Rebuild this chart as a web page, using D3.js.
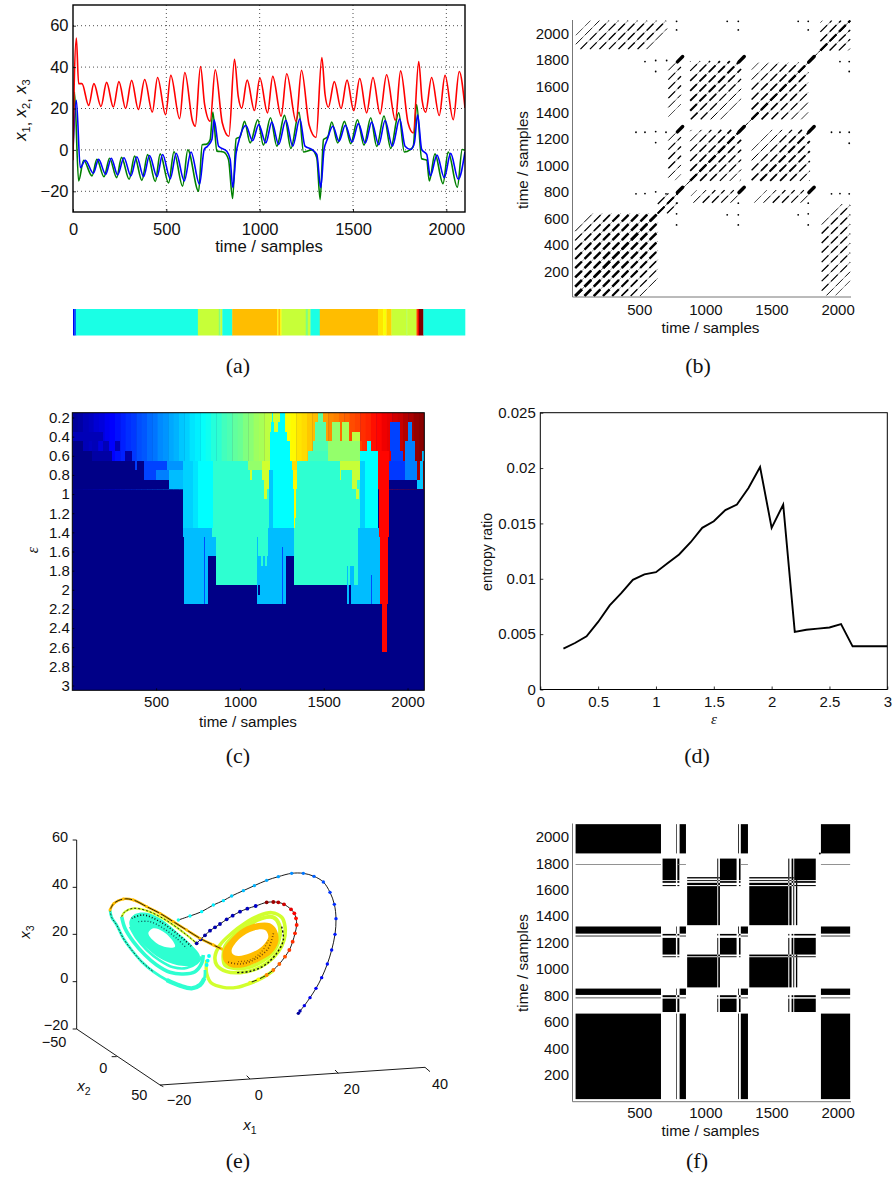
<!DOCTYPE html>
<html>
<head>
<meta charset="utf-8">
<script src="https://cdn.jsdelivr.net/npm/d3@7"></script>
<style>
  html, body { margin: 0; padding: 0; background: #fff; }
  svg { display: block; }
  text { font-family: "Liberation Sans", sans-serif; fill: #111; }
  .serif { font-family: "Liberation Serif", serif; }
</style>
</head>
<body>
<svg id="chart" width="893" height="1178"></svg>
<script>
// (a) time series, read at extrema
const x3T = [0,6,18,30,48,84,112,150,180,216,246,282,314,350,384,425,453,496,524,571,599,640,655,683,705,735,762,800,835,865,885,904,933,972,1001,1042,1070,1115,1145,1195,1224,1265,1302,1333,1350,1368,1400,1436,1468,1504,1536,1573,1607,1645,1680,1727,1755,1795,1823,1852,1870,1889,1921,1962,1993,2037,2069,2100];
const x3V = [-5,30,54,32,32,21.5,32,21,32.6,20.7,33,20,33.6,19.5,34,18.3,35,17,36,15.1,37.4,14,11.4,40.3,22,13.8,38.7,13,6.6,43.8,26,20.2,33.7,19,34.7,17.9,35.5,16.3,36.8,13.8,38.5,12,6,44.6,27,20.6,33,20,33.7,19,34.5,17.9,35,17.4,36.3,14.3,38.2,13,8.2,42.7,24,18.2,35,16.6,36,14.6,37.9,20.3];
const x2T = [0,8,30,57,102,128,166,196,234,260,301,330,369,400,441,467,512,541,587,615,673,692,717,735,749,771,806,833,855,874,895,919,949,990,1020,1058,1092,1133,1167,1211,1235,1279,1306,1324,1342,1365,1386,1418,1454,1488,1524,1559,1595,1627,1666,1702,1745,1775,1805,1823,1841,1868,1895,1909,1939,1982,2010,2059,2085,2100];
const x2V = [-2,28,-15,-5,-12.6,-4.6,-13,-4,-13.4,-3.6,-14.2,-3,-14.7,-2.3,-15.3,-1.9,-16,-0.9,-17.5,0,-20,2.5,2.8,5,18.3,-0.6,-1,-4.6,-23.5,5.4,6.3,13.8,3.4,14.6,2.3,15.5,1.8,16.7,0.7,18.2,-1,0,-3.8,-24,5,6.3,13.5,3.4,13.8,3,14.6,2.3,15.5,1.7,16.4,0.7,17.9,-1,0,1.8,21.9,-4.3,-5,-15,-1.9,-16.3,-1,-18,0.2,-0.2];
const x1T = [0,18,39,66,109,137,175,205,239,273,310,342,378,410,450,480,521,553,596,632,678,703,721,744,756,780,824,842,856,874,888,926,962,995,1033,1065,1102,1140,1177,1215,1243,1279,1306,1327,1345,1362,1392,1425,1459,1495,1529,1566,1600,1638,1672,1711,1750,1779,1809,1829,1846,1868,1895,1914,1950,1989,2023,2064,2100];
const x1V = [0,24,-8.6,-5,-11.3,-4.6,-11.8,-4,-12.1,-3.8,-12.6,-3.3,-12.9,-2.7,-13,-2.2,-13.9,-1.7,-15,-1,-16.6,0.2,1.8,5,14.6,1.8,-0.6,-4.6,-18.2,-1.4,4.2,11.8,4.4,12.2,3.4,13.4,2.6,14.3,1.8,15,1.8,0.2,-2.2,-18.2,0.2,5,11.4,4.2,11.9,3.8,12.7,3.3,13.4,2.5,14.2,1.8,15,1.8,0.2,3.4,17,0.2,-2.2,-12.6,-2.5,-13.4,-1.7,-14.2,-1];

// (a) cluster strip
const stripStarts = [0,8,16,669,781,790,800,853,1094,1100,1110,1117,1247,1258,1272,1322,1634,1661,1679,1706,1786,1790,1840,1847,1853,1877];
const stripValues = [0.11,0.22,0.4,0.57,0.5,0.57,0.4,0.69,0.63,0.69,0.63,0.57,0.5,0.57,0.4,0.69,0.65,0.62,0.67,0.57,0.54,0.57,0.8,0.88,1,0.4];

// (b) recurrence plot: diagonal strokes [lag, width] inside blocks
const lagsLowerLeft = [[0,2.6],[70,2.6],[140,2.5],[210,2.4],[280,2.2],[350,1.7],[420,1.2],[490,0.8]];
const lagsEarlyLate = [[1325,0.7],[1393,1.4],[1465,1.4],[1537,1.4],[1609,1.3],[1681,1.3],[1753,1.2],[1825,1.1],[1897,0.8],[1965,0.5]];
const lagsSameWing = [[0,2.1],[75,1.7],[150,1.5],[225,1.2],[300,0.9],[375,0.5]];
const lagsOtherWing = [[235,0.6],[310,1],[385,1.3],[460,1.6],[530,2.1],[605,1.8],[680,1.8],[755,1.5],[830,1.1],[900,0.6]];
const lagsTailShort = [[120,0.4],[190,0.9],[260,1.3],[330,1.3],[400,1.1],[470,0.8]];
const lagsTailLong = [[650,0.5],[720,0.9],[790,1.3],[860,1.3],[930,1.1],[1000,0.8]];
const lagsCorner = [[0,2],[70,1.4],[140,1.2],[210,0.5]];
const lagsBridge = [[0,1.8],[70,1.2]];
const blobX = [808,1274,1803];
const blobY = [817,1275,1804];
const dotX = [543,624,707,624,475,543,624,702,624,475,543,624,702,782,782,1165,1249,1249,1702,1778,1778,2018,2088,2088,1954,2018,2088,2088,1954,2018,2088,1165,1249,1249,1702,1778,1778,782,782,1249,1778,782];
const dotY = [1786,1794,1794,1711,1252,1252,1257,1252,1174,787,789,802,787,2090,2025,2090,2090,2025,2090,2090,2025,1786,1786,1711,1252,1252,1252,1169,787,789,787,628,628,552,628,636,552,552,636,716,716,716];

// (c) top row of the dendrogram image, one value per 32 sample column
const heatRamp = [0.02,0.03,0.05,0.06,0.08,0.09,0.11,0.125,0.14,0.155,0.17,0.18,0.2,0.21,0.23,0.24,0.26,0.27,0.29,0.3,0.32,0.33,0.35,0.36,0.38,0.39,0.41,0.42,0.44,0.45,0.47,0.48,0.5,0.51,0.53,0.54,0.56,0.57,0.59,0.6,0.62,0.63,0.65,0.66,0.68,0.69,0.71,0.72,0.74,0.75,0.77,0.78,0.8,0.81,0.83,0.84,0.86,0.87,0.89,0.9,0.92,0.93,0.95,0.96,0.98,0.99];
// merged clusters painted in order: [from, to, eps from, eps to, value]
const heatPatches = [
  [0,185,0.35,0.45,0.05],[0,65,0.45,0.55,0],[115,155,0.45,0.55,0.05],[185,220,0.45,0.55,0.05],[255,285,0.45,0.55,0.05],
  [0,115,0.55,0.65,0],[115,235,0.55,0.65,0.03],[315,355,0.55,0.65,0.03],
  [0,374,0.65,0.75,0],[384,428,0.65,0.75,0],[0,428,0.75,0.85,0],[0,579,0.85,0.95,0],
  [428,566,0.65,0.75,0.19],[566,658,0.65,0.75,0.27],[428,500,0.75,0.85,0.19],[500,579,0.75,0.85,0.25],
  [579,658,0.75,0.95,0.31],[658,722,0.65,1.35,0.33],[722,752,0.65,1.35,0.35],[752,841,0.65,1.35,0.375],
  [841,1050,0.65,0.75,0.42],[1050,1130,0.65,0.75,0.52],[1130,1180,0.65,0.75,0.58],
  [841,1180,0.75,1.35,0.42],[1062,1070,0.75,0.85,0.58],[1130,1180,0.75,0.85,0.58],
  [1145,1175,0.85,0.95,0.58],[1145,1160,0.95,1.05,0.58],
  [1190,1200,0.15,0.25,0.375],[1200,1240,0.15,0.25,0.58],[1240,1269,0.15,0.25,0.375],
  [1183,1203,0.25,0.35,0.375],[1203,1229,0.25,0.35,0.58],[1229,1269,0.25,0.35,0.375],
  [1180,1283,0.35,0.45,0.375],[1180,1298,0.45,0.65,0.375],[1180,1308,0.65,0.75,0.375],[1180,1328,0.75,1.35,0.375],[1175,1200,0.75,1.35,0.32],
  [1328,1716,0.65,1.35,0.42],
  [1308,1342,0.65,0.75,0.66],[1315,1340,0.75,0.85,0.64],[1318,1338,0.85,0.95,0.63],[1320,1336,0.95,1.05,0.63],[1322,1334,1.05,1.15,0.63],[1323,1332,1.15,1.25,0.63],[1325,1330,1.25,1.35,0.63],
  [1408,1528,0.55,0.65,0.44],[1438,1528,0.45,0.55,0.45],[1448,1514,0.25,0.45,0.46],[1468,1498,0.15,0.25,0.47],
  [1528,1716,0.45,0.65,0.52],[1548,1597,0.25,0.45,0.52],[1607,1653,0.25,0.45,0.54],[1667,1716,0.35,0.45,0.56],
  [1595,1716,0.65,0.75,0.57],[1595,1605,0.75,0.85,0.57],[1667,1716,0.75,0.85,0.57],
  [1667,1697,0.85,0.95,0.57],[1692,1712,0.95,1.05,0.57],
  [1716,1730,0.45,0.55,0.81],[1756,1780,0.45,0.55,0.375],[1716,1826,0.55,1.35,0.375],[1716,1746,0.65,1.35,0.33],
  [1826,1892,0.55,0.65,0.87],[1826,1892,0.65,0.95,0.87],[1830,1888,0.95,1.45,0.87],
  [1892,2055,0.85,0.95,0],[2055,2095,0.85,0.95,0.32],
  [1892,1985,0.65,0.85,0.18],[1985,2055,0.65,0.85,0.25],[2055,2075,0.65,0.85,0.96],[2075,2095,0.65,0.85,0.31],
  [1895,1955,0.25,0.55,0.19],[1900,1975,0.55,0.65,0.19],[1985,2045,0.45,0.65,0.25],[2005,2025,0.25,0.45,0.25],[2085,2100,0.55,0.65,0.31],
  [658,836,1.35,1.45,0.31],[836,1165,1.35,1.45,0.42],[1165,1325,1.35,1.45,0.31],[1325,1706,1.35,1.45,0.42],[1706,1830,1.35,1.45,0.31],
  [664,855,1.45,1.65,0.31],[855,1100,1.45,1.65,0.42],[1100,1110,1.45,1.65,0.31],[1110,1165,1.45,1.65,0.42],[1165,1325,1.45,1.65,0.31],[1325,1706,1.45,1.65,0.42],[1706,1838,1.45,1.65,0.31],
  [1125,1135,1.55,1.75,0.42],[1150,1160,1.55,1.75,0.42],[1253,1256,1.55,2.15,0.2],
  [664,810,1.65,2.15,0.31],[855,1100,1.65,1.95,0.42],[1100,1250,1.65,2.15,0.31],[1125,1135,1.65,1.75,0.42],[1150,1160,1.65,1.75,0.42],[1256,1277,1.65,2.15,0.31],
  [1325,1706,1.65,1.95,0.42],[1640,1645,1.75,2.15,0.31],[1657,1680,1.75,1.95,0.31],[1706,1838,1.65,2.15,0.31],
  [1637,1650,1.95,2.15,0.31],[1660,1706,1.95,2.15,0.31],[1110,1122,1.95,2.05,0],[786,790,1.45,2.15,0.2],[1782,1786,1.85,2.15,0.2],
  [1838,1882,1.45,2.15,0.87],[1846,1878,2.15,2.35,0.87],[1850,1876,2.35,2.65,0.87]
];
const heatRowTicks = [0.2,0.4,0.6,0.8,1,1.2,1.4,1.6,1.8,2,2.2,2.4,2.6,2.8,3];

// (d) entropy ratio
const epsValues = [0.2,0.3,0.4,0.5,0.6,0.7,0.8,0.9,1,1.1,1.2,1.3,1.4,1.5,1.6,1.7,1.8,1.9,2,2.1,2.2,2.3,2.4,2.5,2.6,2.7,2.8,2.9,3];
const entropyRatio = [0.0037,0.0042,0.0048,0.0061,0.0076,0.0087,0.0099,0.0104,0.0106,0.0114,0.0122,0.0133,0.0146,0.0152,0.0162,0.0167,0.0182,0.0201,0.0146,0.0167,0.0052,0.0054,0.0055,0.0056,0.0059,0.0039,0.0039,0.0039,0.0039];

// (e) attractor, read in the view plane of the 3d plot
const trackStart = [[86.5,38],[87,38.7],[88.3,40.3],[90,42.7],[91.8,45.5],[93.5,48.7],[95.2,52.8],[96.5,57],[97.5,61.7],[97.8,66.4],[97.3,70.7],[96,74.3],[94,77.4],[91.2,79.1],[88,80],[84.5,80],[80.5,79],[77,77.9],[73.3,76.3],[70,74.8],[66.5,73.2],[64,71.8],[61,70.5],[57.5,68.5],[54,67.2],[50.5,66]];
const trackStartColor = [0.02,0.04,0.1,0.11,0.12,0.13,0.14,0.14,0.15,0.16,0.17,0.18,0.2,0.22,0.24,0.26,0.28,0.29,0.3,0.31,0.33,0.35,0.36,0.37,0.38,0.4];
const trackEnd = [[56,59],[57.2,60.2],[58.5,61.4],[60,62.8],[61.5,63.8],[63,64.8],[65,66.2],[66.8,67.3],[69,68.5],[71.2,69.4],[73.7,70.2],[77,71.3],[79,71.4],[80.5,71.3],[82.2,70.7],[84.3,69.2],[85.3,68],[85.8,66.5],[86,64.5],[85.5,62],[84.8,59.5],[83.8,57],[82.5,55],[80.8,52.8],[79,51],[77,49.5],[74.5,48.2],[72,47.2]];
const trackEndColor = [0.03,0.03,0.03,0.04,0.04,0.04,0.05,0.05,0.05,0.06,0.07,0.99,0.97,0.95,0.92,0.9,0.88,0.86,0.85,0.84,0.83,0.82,0.8,0.78,0.76,0.74,0.62,0.6];
const bandTop = [[30,69],[31.2,71],[34,72.3],[37,72],[41,70],[45,68],[49,65.5],[53,63],[57,60.5],[61,58.5],[63.5,57.3]];
const bandSide = [[30,69],[30.5,66.8],[32,64.5],[34,60.5],[36.5,57],[39.5,53.5],[43,50.5],[47,48],[51,46.3],[54.5,45.5],[57,46.5],[58.3,48.5],[58.5,51]];
const bandSideHeavy = [[47,48],[51,46.3],[54.5,45.5],[57,46.5],[58.3,48.5]];
const loopTop = [[33.5,67],[34.5,68.5],[37,69.5],[41,68.8],[45,67],[49,64.5],[53,61.5],[56,59]];
const loopSide = [[33.5,67],[34.5,63.5],[37,59.5],[40.5,55.5],[44,52.5],[48,50.3],[52,49.8],[55.5,50.5],[57.5,53],[58,55.5]];
const loopThird = [[36,64],[38,60.5],[41,57],[45,53.8],[49,51.8],[53,51.6],[56,53],[57.5,55]];
const tealOuter = [[35.8,65.5],[37.5,67.8],[41,68.2],[45,66.5],[50,62.5],[54.5,58.5],[57,55],[55,52.5],[50,52.5],[45,54.5],[40,58.5],[37,62]];
const tealHole = [[41.5,62],[43,63.5],[46,62.5],[49,59.5],[49.5,58],[47,57.8],[44,59]];
const tealStipple = [[36.5,66.5],[40,67.5],[45,65.5],[50,62],[54.5,58]];
const tealStippleInner = [[38.5,65.5],[42,65.5],[46,63.5],[50,60.5],[53,57.5]];
const orangeOuter = [[64,57],[66.5,60.5],[70,63.5],[74,65],[78,65],[80,63],[80.5,59.5],[78.5,56],[74.5,53.5],[70,51.8],[66,52],[64,54]];
const orangeHole = [[66.5,57],[69,60.5],[73,62.8],[76.5,63],[77.5,61],[75.5,58],[72,56],[68.5,55.2],[66.8,55.8]];
const orangeStipple = [[79,62],[77.5,57.5],[74,54.5],[69,52.8],[65,53.5]];
const orangeStippleInner = [[77.5,60],[75.5,56.5],[72,54],[68,53.5]];
const limeOuter = [[61.5,55],[63,58.5],[66.5,62],[70.5,65],[74.5,67.2],[78.5,68.2],[81.5,66.8],[82.5,64],[82.2,60],[80.5,56.5],[77,53],[73,51],[69,50.2],[65,50.5],[62,52.5]];
const limeInner = [[64,55],[64.5,58],[67.5,61.5],[71.5,64.5],[75.5,66.5],[79,66.8],[80.8,64.5],[80.8,60.5],[79,56.5],[75.5,53.5],[71.5,51.8],[67.5,51.5],[64.5,52.5]];
const limeStipple = [[81.5,64],[82,60],[80,56],[76.5,52.5],[72,50.6],[68,50.2]];
const limeBottom = [[59,54],[59,50],[60.5,47],[64,45.8],[68,45.8],[72,47],[75.5,48.5],[79,50.8]];
const crossingDots = [[59.7,55.2],[59.3,53.8],[59,52.5]];
const axis3Lines = [[[20,33.3],[20,90]],[[20,33.3],[45,16.5]],[[45,16.5],[124.5,21.8]],[[124.5,21.8],[126,20.5]],[[45,16.5],[46,16]]];
const axis3Ticks = [[[20,90],[18.8,90]],[[20,75.8],[18.8,75.8]],[[20,61.7],[18.8,61.7]],[[20,47.5],[18.8,47.5]],[[20,33.3],[18.8,33.3]],[[32,25],[30.5,25]],[[72,18.3],[71,19.3]],[[98.5,20],[97.5,21]]];
const zTickLabels = [["60",15,89.5],["40",15,75.3],["20",15,61.1],["0",16.3,47],["\u221220",13.8,33]];
const yTickLabels = [["\u221250",13.2,28],["0",28,20.2],["50",38.8,12]];
const xTickLabels = [["\u221220",50.7,10.4],["0",74.6,12],["20",102.5,13.7],["40",129,15.3]];

// (f) clustered recurrence: same label means black
const labelA = [[18,664],[780,785],[805,853],[1247,1253],[1268,1322],[1874,2095]];
const labelB = [[676,777],[788,803],[1090,1097],[1110,1236],[1254,1266],[1627,1635],[1652,1665],[1672,1835]];
const labelC = [[862,1090],[1097,1110],[1332,1627],[1635,1652],[1665,1672],[1685,1695]];
const strayRows = [[18,664],[788,853],[1268,1322],[1874,2095]];
const strayRowAt = 1790;

const svg = d3.select("#chart");

const jet = d3.scaleLinear()
  .domain([0, 0.125, 0.375, 0.625, 0.875, 1])
  .range(["#000087", "#0000ff", "#00ffff", "#ffff00", "#ff0000", "#800000"]);

function clipBox(id, x, y, w, h) {
  svg.append("clipPath").attr("id", id).append("rect")
    .attr("x", x).attr("y", y).attr("width", w).attr("height", h);
  return `url(#${id})`;
}

function label(txt, x, y, size, rotate) {
  const t = svg.append("text").attr("text-anchor", "middle").attr("font-size", size);
  if (rotate) t.attr("transform", `translate(${x},${y}) rotate(-90)`);
  else t.attr("x", x).attr("y", y);
  return t.text(txt);
}

function panelTag(txt, x, y) {
  label(txt, x, y, 22).attr("class", "serif");
}

function styleTicks(g, size) {
  g.select(".domain").remove();
  g.selectAll("text").attr("font-size", size).attr("fill", "#111");
  g.selectAll("line").attr("stroke", "#000").attr("stroke-width", 0.8);
}

function boxRect(l, t, r, b, width) {
  svg.append("rect").attr("x", l).attr("y", t).attr("width", r - l).attr("height", b - t)
    .attr("fill", "none").attr("stroke", "#000").attr("stroke-width", width);
}

function bottomAxis(scale, y, ticks, size, tickLen, pad, fmt) {
  const ax = d3.axisBottom(scale).tickValues(ticks).tickSize(-tickLen).tickPadding(pad);
  ax.tickFormat(fmt || d3.format("d"));
  svg.append("g").attr("transform", `translate(0,${y})`).call(ax).call(styleTicks, size);
}

function leftAxis(scale, x, ticks, size, tickLen, pad, fmt) {
  const ax = d3.axisLeft(scale).tickValues(ticks).tickSize(-tickLen).tickPadding(pad);
  ax.tickFormat(fmt || d3.format("d"));
  svg.append("g").attr("transform", `translate(${x},0)`).call(ax).call(styleTicks, size);
}

// ---------- (a)
function drawSeries() {
  const l = 73, r = 465, t = 5, b = 212;
  const x = d3.scaleLinear().domain([0, 2100]).range([l, r]);
  const y = d3.scaleLinear().domain([-30, 70]).range([b, t]);
  const xTicks = [0, 500, 1000, 1500, 2000];
  const yTicks = [-20, 0, 20, 40, 60];

  const grid = svg.append("g").attr("stroke", "#222").attr("stroke-width", 0.8).attr("stroke-dasharray", "1 3");
  grid.selectAll("line.v").data(xTicks.slice(1)).join("line")
    .attr("x1", x).attr("x2", x).attr("y1", t).attr("y2", b);
  grid.selectAll("line.h").data(yTicks).join("line")
    .attr("x1", l).attr("x2", r).attr("y1", y).attr("y2", y);

  const clip = clipBox("clipA", l, t, r - l, b - t);
  const series = [[x2T, x2V, "#008000"], [x1T, x1V, "#0000ff"], [x3T, x3V, "#ff0000"]];
  series.forEach(([ts, vs, color]) => {
    const line = d3.line().x((d, i) => x(ts[i])).y((d) => y(d)).curve(d3.curveMonotoneX);
    svg.append("path").attr("d", line(vs)).attr("clip-path", clip)
      .attr("fill", "none").attr("stroke", color).attr("stroke-width", 1.6);
  });

  bottomAxis(x, b, xTicks, 16.5, 3, 11);
  leftAxis(y, l, yTicks, 16.5, 3, 4.5);
  boxRect(l, t, r, b, 1.4);
  label("time / samples", 269, 252, 16.7);

  // rotated y label with subscripts
  const yl = svg.append("text").attr("transform", "translate(26,110) rotate(-90)")
    .attr("text-anchor", "middle").attr("font-size", 16.5).attr("font-style", "italic");
  [["x", "1"], ["x", "2"], ["x", "3"]].forEach(([a, s], i) => {
    yl.append("tspan").text(a).attr("dy", i ? -4 : 0);
    yl.append("tspan").text(s).attr("font-size", 11).attr("font-style", "normal").attr("dy", 4);
    if (i < 2) yl.append("tspan").text(", ").attr("font-style", "normal");
  });

  // cluster strip under the series
  const strip = svg.append("g").style("filter", "blur(0.4px)");
  strip.selectAll("rect").data(stripStarts).join("rect")
    .attr("x", (d) => x(d))
    .attr("width", (d, i) => x(i + 1 < stripStarts.length ? stripStarts[i + 1] : 2100) - x(d) + 0.3)
    .attr("y", 309).attr("height", 26.5)
    .attr("fill", (d, i) => jet(stripValues[i]));

  panelTag("(a)", 238, 373);
}

// ---------- (b)
function drawRecurrence() {
  const l = 572.5, b = 297;
  const x = d3.scaleLinear().domain([0, 2100]).range([573.2, 850.8]);
  const y = d3.scaleLinear().domain([0, 2100]).range([298, 20]);

  const layer = svg.append("g").style("filter", "blur(0.35px)").attr("stroke", "#000").attr("fill", "none");

  // one stroke along y - x = lag, cut at the block edges, also drawn mirrored
  function strokes(lags, x0, x1, y0, y1) {
    lags.forEach(([lag, w]) => {
      const a = Math.max(x0, y0 - lag), e = Math.min(x1, y1 - lag);
      if (e <= a) return;
      [[0, 1], [1, 0]].forEach(([sx, sy]) => {
        const p = (s) => sx ? [x(s + lag), y(s)] : [x(s), y(s + lag)];
        const [ax, ay] = p(a), [ex, ey] = p(e);
        layer.append("line").attr("x1", ax).attr("y1", ay).attr("x2", ex).attr("y2", ey)
          .attr("stroke-width", Math.min(w, 0.6)).attr("stroke", "#555");
        layer.append("line").attr("x1", ax).attr("y1", ay).attr("x2", ex).attr("y2", ey)
          .attr("stroke-width", w).attr("stroke-dasharray", "9.5 3.7");
      });
    });
  }

  strokes(lagsLowerLeft, 15, 640, 15, 640);
  strokes(lagsBridge, 640, 790, 640, 790);
  strokes(lagsEarlyLate, 20, 710, 1880, 2095);
  strokes(lagsSameWing, 885, 1270, 885, 1270);
  strokes(lagsSameWing, 1350, 1780, 1350, 1780);
  strokes(lagsOtherWing, 885, 1270, 1350, 1790);
  strokes(lagsTailShort, 720, 815, 890, 1290);
  strokes(lagsTailLong, 720, 815, 1350, 1790);
  strokes(lagsCorner, 1870, 2095, 1870, 2095);
  strokes([[0, 0.7]], 790, 890, 790, 890);
  strokes([[0, 0.7]], 1270, 1350, 1270, 1350);
  strokes([[0, 0.7]], 1790, 1870, 1790, 1870);

  blobX.forEach((bx) => blobY.forEach((by) => {
    layer.append("line").attr("x1", x(bx - 20)).attr("y1", y(by - 20))
      .attr("x2", x(bx + 20)).attr("y2", y(by + 20))
      .attr("stroke-width", 3.4).attr("stroke-linecap", "round");
  }));

  layer.selectAll("circle").data(dotX).join("circle")
    .attr("cx", (d) => x(d)).attr("cy", (d, i) => y(dotY[i])).attr("r", 0.9)
    .attr("fill", "#000").attr("stroke", "none");

  drawBareAxes(x, y, l, b, 7);
  label("time / samples", 710.5, 333, 15.2);
  label("time / samples", 528, 160, 15.2, true);
  panelTag("(b)", 698, 373);
}

function drawBareAxes(x, y, l, b, pad) {
  svg.append("line").attr("x1", l).attr("x2", 851).attr("y1", b).attr("y2", b).attr("stroke", "#777");
  svg.append("line").attr("x1", l).attr("x2", l).attr("y1", b).attr("y2", y(2100)).attr("stroke", "#777");
  bottomAxis(x, b, [500, 1000, 1500, 2000], 15, 0, pad);
  leftAxis(y, l, [200, 400, 600, 800, 1000, 1200, 1400, 1600, 1800, 2000], 15, 0, 3.5);
}

// ---------- (c)
function drawHeatmap() {
  const l = 72.3, r = 424.3, t = 412.7, b = 690.3;
  const x = d3.scaleLinear().domain([0, 2100]).range([l, r]);
  const y = d3.scaleLinear().domain([0.15, 3.05]).range([t, b]);
  const col = d3.scaleBand().domain(d3.range(heatRamp.length)).range([l, r]);

  const clip = clipBox("clipC", l, t, r - l, b - t);
  const g = svg.append("g").attr("clip-path", clip).append("g").style("filter", "blur(0.45px)");

  g.append("rect").attr("x", l - 3).attr("y", t - 3).attr("width", r - l + 6).attr("height", b - t + 6).attr("fill", jet(0));
  g.selectAll("rect.ramp").data(heatRamp).join("rect").attr("class", "ramp")
    .attr("x", (d, i) => col(i)).attr("width", col.bandwidth() + 0.4)
    .attr("y", t - 3).attr("height", y(0.95) - t + 3)
    .attr("fill", (d) => jet(d));
  g.selectAll("rect.patch").data(heatPatches).join("rect").attr("class", "patch")
    .attr("shape-rendering", "crispEdges")
    .attr("x", (d) => x(d[0])).attr("width", (d) => x(d[1]) - x(d[0]))
    .attr("y", (d) => y(d[2])).attr("height", (d) => y(d[3]) - y(d[2]))
    .attr("fill", (d) => jet(d[4]));

  bottomAxis(x, b, [500, 1000, 1500, 2000], 15, 2, 6.5);
  leftAxis(y, l, heatRowTicks, 15, 2, 2.5, (d) => d3.format("~g")(d));
  boxRect(l, t, r, b, 1);
  label("time / samples", 248, 727, 15.2);
  label("\u03b5", 0, 0, 16).attr("transform", "translate(38,550) rotate(-90)")
    .attr("class", "serif").attr("font-style", "italic");
  panelTag("(c)", 238, 763);
}

// ---------- (d)
function drawEntropy() {
  const l = 540.3, r = 887.3, t = 412.7, b = 689.5;
  const x = d3.scaleLinear().domain([0, 3]).range([l, r]);
  const y = d3.scaleLinear().domain([0, 0.025]).range([b, t]);
  const line = d3.line().x((d, i) => x(epsValues[i])).y((d) => y(d));

  svg.append("path").attr("d", line(entropyRatio)).attr("fill", "none")
    .attr("stroke", "#000").attr("stroke-width", 1.9);

  bottomAxis(x, b, [0, 0.5, 1, 1.5, 2, 2.5, 3], 15, 3, 6.5, (d) => d3.format("~g")(d));
  leftAxis(y, l, [0, 0.005, 0.01, 0.015, 0.02, 0.025], 15, 3, 4.5, (d) => d3.format("~g")(d));
  boxRect(l, t, r, b, 1);
  label("entropy ratio", 492, 552, 14, true);
  label("\u03b5", 714, 724, 15).attr("class", "serif").attr("font-style", "italic");
  panelTag("(d)", 697, 763);
}

// ---------- (e)
function drawAttractor() {
  const u = d3.scaleLinear().domain([0, 132]).range([10, 450]);
  const v = d3.scaleLinear().domain([0, 99]).range([1140, 810]);
  const open = d3.line().x((d) => u(d[0])).y((d) => v(d[1])).curve(d3.curveCatmullRom);
  const closed = d3.line().x((d) => u(d[0])).y((d) => v(d[1])).curve(d3.curveCatmullRomClosed);

  const ink = svg.append("g").attr("fill", "none").style("filter", "blur(0.25px)");
  const stroke = (pts, gen, color, w, dash) => ink.append("path").attr("d", gen(pts))
    .attr("stroke", color).attr("stroke-width", w).attr("stroke-dasharray", dash || null);
  const fill = (pts, color) => ink.append("path").attr("d", closed(pts)).attr("fill", color);

  const lime = jet(0.58), orange = jet(0.69), teal = jet(0.42);

  stroke(limeOuter, closed, lime, 3.6);
  stroke(limeInner, closed, lime, 4);
  stroke(limeBottom, open, lime, 3.4);
  stroke(limeStipple, open, "#111", 1.4, "2 2");
  fill(orangeOuter, orange);
  fill(orangeHole, "#fff");
  stroke(orangeStipple, open, "#7a4b00", 1.7, "1 2");
  stroke(orangeStippleInner, open, "#9a6400", 1.4, "1 2");

  stroke(bandSide, open, teal, 2.8);
  stroke(bandSideHeavy, open, teal, 4.4);
  stroke(loopSide, open, teal, 3.6);
  stroke(loopThird, open, teal, 2.6);
  fill(tealOuter, teal);
  fill(tealHole, "#fff");
  stroke(tealStipple, open, "#111", 1.6, "1 2");
  stroke(tealStippleInner, open, "#155", 1.4, "1 2");
  stroke(loopTop, open, lime, 2.2);
  stroke(loopTop, open, "#111", 0.9, "2 2");
  stroke(bandTop, open, orange, 2.6);
  stroke(bandTop, open, "#111", 0.9);
  stroke(bandSide.slice(0, 7), open, "#111", 0.8, "2 1.5");

  stroke(trackStart, open, "#000", 0.9);
  stroke(trackEnd, open, "#000", 0.9);
  ink.selectAll("circle.a").data(trackStart).join("circle").attr("class", "a")
    .attr("cx", (d) => u(d[0])).attr("cy", (d) => v(d[1])).attr("r", 1.7)
    .attr("fill", (d, i) => jet(trackStartColor[i]));
  ink.selectAll("circle.b").data(trackEnd).join("circle").attr("class", "b")
    .attr("cx", (d) => u(d[0])).attr("cy", (d) => v(d[1])).attr("r", 1.9)
    .attr("fill", (d, i) => jet(trackEndColor[i]));
  ink.selectAll("circle.c").data(bandTop).join("circle").attr("class", "c")
    .attr("cx", (d) => u(d[0])).attr("cy", (d) => v(d[1])).attr("r", 1.4).attr("fill", orange);
  ink.selectAll("circle.d").data(crossingDots).join("circle").attr("class", "d")
    .attr("cx", (d) => u(d[0])).attr("cy", (d) => v(d[1])).attr("r", 1.9).attr("fill", jet(0.38));

  // 3d axes
  const axes = svg.append("g").attr("stroke", "#000").attr("stroke-width", 0.9);
  axis3Lines.concat(axis3Ticks).forEach(([a, e]) => {
    axes.append("line").attr("x1", u(a[0])).attr("y1", v(a[1])).attr("x2", u(e[0])).attr("y2", v(e[1]));
  });
  zTickLabels.concat(yTickLabels, xTickLabels).forEach(([s, a, e]) => {
    label(s, u(a), v(e), 14.5);
  });

  const subLabel = (name, sub, tr) => {
    const t = svg.append("text").attr("transform", tr).attr("text-anchor", "middle")
      .attr("font-size", 15).attr("font-style", "italic");
    t.append("tspan").text(name);
    t.append("tspan").text(sub).attr("font-size", 10.5).attr("font-style", "normal").attr("dy", 4);
  };
  subLabel("x", "3", "translate(30,932) rotate(-90)");
  subLabel("x", "2", "translate(84,1091)");
  subLabel("x", "1", "translate(250,1130)");
  panelTag("(e)", 238, 1168);
}

// ---------- (f)
function drawClustered() {
  const l = 572.5, b = 1101.7;
  const x = d3.scaleLinear().domain([0, 2100]).range([573.2, 850.8]);
  const y = d3.scaleLinear().domain([0, 2100]).range([1101.5, 823.5]);
  const g = svg.append("g").style("filter", "blur(0.4px)");

  [labelA, labelB, labelC].forEach((segs) => {
    segs.forEach((sx) => segs.forEach((sy) => {
      g.append("rect").attr("x", x(sx[0])).attr("width", x(sx[1]) - x(sx[0]))
        .attr("y", y(sy[1])).attr("height", y(sy[0]) - y(sy[1])).attr("fill", "#000");
    }));
  });
  strayRows.forEach((sx) => {
    g.append("rect").attr("x", x(sx[0])).attr("width", x(sx[1]) - x(sx[0]))
      .attr("y", y(strayRowAt) - 0.4).attr("height", 0.8).attr("fill", "#777");
  });
  g.append("circle").attr("cx", x(1866)).attr("cy", y(1874)).attr("r", 1).attr("fill", "#000");

  drawBareAxes(x, y, l, b, 6);
  label("time / samples", 710.5, 1136, 15.2);
  label("time / samples", 528, 963, 15.2, true);
  panelTag("(f)", 697, 1168);
}

drawSeries();
drawRecurrence();
drawHeatmap();
drawEntropy();
drawAttractor();
drawClustered();
</script>
</body>
</html>
